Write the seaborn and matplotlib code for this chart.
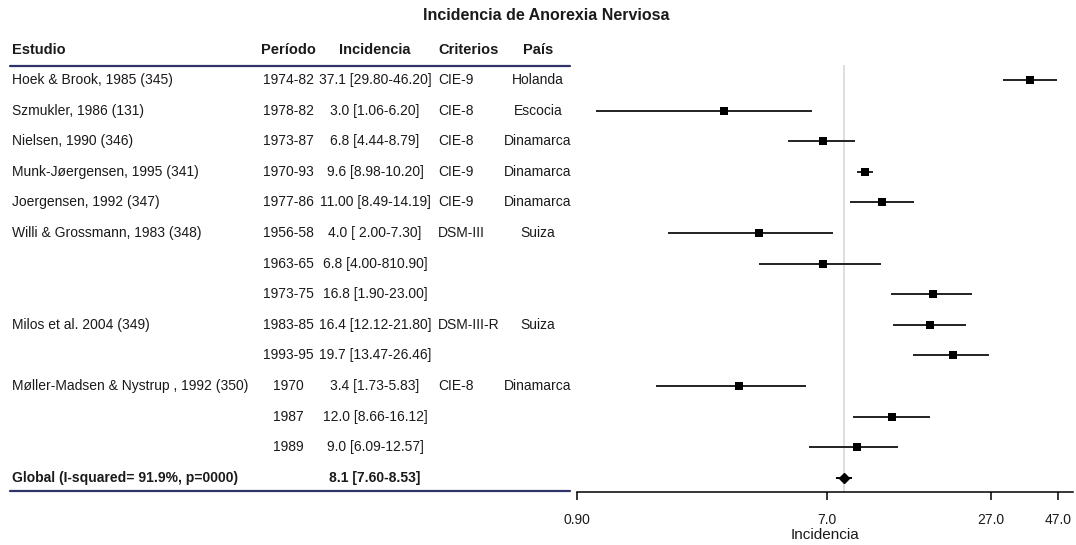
import matplotlib
matplotlib.use("Agg")
import matplotlib.pyplot as plt
import seaborn as sns
import pandas as pd
import numpy as np

# ---------------- data ----------------
studies = ["Hoek & Brook, 1985 (345)", "Szmukler, 1986 (131)", "Nielsen, 1990 (346)",
           "Munk-Jøergensen, 1995 (341)", "Joergensen, 1992 (347)",
           "Willi & Grossmann, 1983 (348)", "", "", "Milos et al. 2004 (349)", "",
           "Møller-Madsen & Nystrup , 1992 (350)", "", ""]
periods = ["1974-82", "1978-82", "1973-87", "1970-93", "1977-86", "1956-58", "1963-65",
           "1973-75", "1983-85", "1993-95", "1970", "1987", "1989"]
inc_labels = ["37.1 [29.80-46.20]", "3.0 [1.06-6.20]", "6.8 [4.44-8.79]", "9.6 [8.98-10.20]",
              "11.00 [8.49-14.19]", "4.0 [ 2.00-7.30]", "6.8 [4.00-810.90]", "16.8 [1.90-23.00]",
              "16.4 [12.12-21.80]", "19.7 [13.47-26.46]", "3.4 [1.73-5.83]",
              "12.0 [8.66-16.12]", "9.0 [6.09-12.57]"]
criterios = ["CIE-9", "CIE-8", "CIE-8", "CIE-9", "CIE-9", "DSM-III", "", "", "DSM-III-R", "",
             "CIE-8", "", ""]
paises = ["Holanda", "Escocia", "Dinamarca", "Dinamarca", "Dinamarca", "Suiza", "", "",
          "Suiza", "", "Dinamarca", "", ""]
est = [37.1, 3.0, 6.8, 9.6, 11.0, 4.0, 6.8, 16.8, 16.4, 19.7, 3.4, 12.0, 9.0]
lo = [29.8, 1.05, 5.1, 8.95, 8.47, 1.9, 4.0, 11.9, 12.1, 14.2, 1.72, 8.66, 6.08]
hi = [46.5, 6.2, 8.85, 10.27, 14.3, 7.38, 10.9, 23.2, 22.0, 26.6, 5.89, 16.3, 12.6]

global_label = "Global (I-squared= 91.9%, p=0000)"
global_inc = "8.1 [7.60-8.53]"
global_est, global_lo, global_hi = 8.1, 7.55, 8.59

headers = ["Estudio", "Período", "Incidencia", "Criterios", "País"]
xticks = [0.90, 7.0, 27.0, 47.0]
xtick_labels = ["0.90", "7.0", "27.0", "47.0"]
title = "Incidencia de Anorexia Nerviosa"
xlabel = "Incidencia"

# ---------------- style ----------------
sns.set_theme(style="white")
plt.rcParams["font.family"] = ["Liberation Sans", "DejaVu Sans"]
TXT = "#1a1a1a"
NAVY = "#2f3368"

W, H = 1076, 545
fig = plt.figure(figsize=(W / 100, H / 100), dpi=100)

row0_px, row_step = 80.0, 30.6
n = len(est)
rows = np.arange(n)
grow = n  # global row index

def px2row(py):
    return (py - row0_px) / row_step

# table axes (whole figure)
axt = fig.add_axes([0, 0, 1, 1])
axt.set_xlim(0, W)
axt.set_ylim(px2row(H), px2row(0))
axt.axis("off")

# forest axes
fx0, fx1 = 577, 1073
fy_top, fy_bot = 65, 492
ax = fig.add_axes([fx0 / W, 1 - fy_bot / H, (fx1 - fx0) / W, (fy_bot - fy_top) / H])
ax.set_xscale("log")
ax.set_xlim(0.9, 0.9 * np.exp((fx1 - fx0) / 121.7))
ax.set_ylim(px2row(fy_bot), px2row(fy_top))

df = pd.DataFrame({"row": rows, "est": est, "lo": lo, "hi": hi})
ax.axvline(global_est, color="#d4d4d4", lw=1.1, zorder=0)
ax.hlines(df["row"], df["lo"], df["hi"], color="#222222", lw=1.4, zorder=2)
sns.scatterplot(data=df, x="est", y="row", marker="s", s=34, color="black",
                edgecolor="black", linewidth=0, ax=ax, zorder=3, legend=False)
ax.hlines(grow, global_lo, global_hi, color="black", lw=1.4, zorder=2)
ax.plot([global_est], [grow], marker="D", ms=5, color="black", zorder=3)

for s in ["top", "right", "left"]:
    ax.spines[s].set_visible(False)
ax.spines["bottom"].set_color("black")
ax.spines["bottom"].set_linewidth(1.1)
ax.set_xticks(xticks)
ax.set_xticklabels(xtick_labels)
ax.xaxis.set_minor_locator(matplotlib.ticker.NullLocator())
ax.tick_params(axis="x", bottom=True, length=6, width=1.1, color="black",
               labelsize=10, labelcolor=TXT, pad=9)
ax.set_yticks([])
ax.set_ylabel("")
ax.set_xlabel(xlabel, fontsize=11, color=TXT, labelpad=1)

# title
fig.text(546 / W, 1 - 16 / H, title, ha="center", va="center",
         fontsize=11.5, fontweight="bold", color=TXT)

# headers
hy = px2row(50)
col_x = [12, 288, 375, 438, 538]
col_ha = ["left", "center", "center", "left", "center"]
for h, x, ha in zip(headers, col_x, col_ha):
    axt.text(x, hy, h, ha=ha, va="center", fontsize=10.5, fontweight="bold", color=TXT)

axt.plot([10, 570], [px2row(66), px2row(66)], color=NAVY, lw=1.6)
axt.plot([10, 570], [px2row(491), px2row(491)], color=NAVY, lw=1.6)

fs = 10
for i in range(n):
    cols = [studies[i], periods[i], inc_labels[i], criterios[i], paises[i]]
    for c, x, ha in zip(cols, col_x, col_ha):
        if c:
            axt.text(x, i, c, ha=ha, va="center", fontsize=fs, color=TXT)

axt.text(12, grow, global_label, ha="left", va="center", fontsize=fs,
         fontweight="bold", color=TXT)
axt.text(375, grow, global_inc, ha="center", va="center", fontsize=fs,
         fontweight="bold", color=TXT)

fig.savefig("out.png", dpi=100)
